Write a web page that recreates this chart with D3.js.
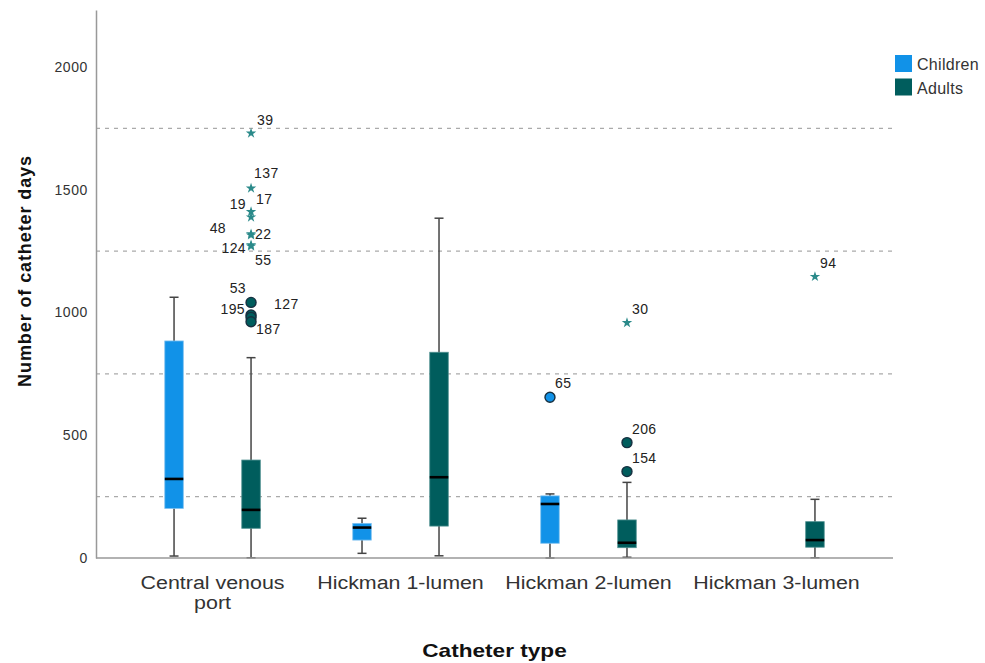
<!DOCTYPE html>
<html>
<head>
<meta charset="utf-8">
<script src="https://cdn.jsdelivr.net/npm/d3@7"></script>
<style>
  body { margin: 0; background: #fff; }
  svg { font-family: "Liberation Sans", Arial, sans-serif; }
</style>
</head>
<body>
<div id="chart"></div>
<script>
// Chart size
const width = 985;
const height = 663;
const margin = {left: 96, right: 92, top: 10, bottom: 105};

// Categories and groups
const categories = ["Central venous port", "Hickman 1-lumen", "Hickman 2-lumen", "Hickman 3-lumen"];
const groups = ["Children", "Adults"];
const yTicks = [0, 500, 1000, 1500, 2000];
const gridValues = [250, 750, 1250, 1750];

// Box statistics: [category, group, lowWhisker, q1, median, q3, highWhisker]
const boxStats = [
  ["Central venous port", "Children", 8, 202, 322, 884, 1062],
  ["Central venous port", "Adults", 1, 121, 196, 399, 816],
  ["Hickman 1-lumen", "Children", 19, 73, 124, 141, 162],
  ["Hickman 1-lumen", "Adults", 9, 130, 329, 838, 1384],
  ["Hickman 2-lumen", "Children", 0, 60, 220, 253, 261],
  ["Hickman 2-lumen", "Adults", 3, 42, 62, 155, 308],
  ["Hickman 3-lumen", "Adults", 1, 44, 73, 148, 239]
];

// Outliers: [category, group, case id, value, kind]
const outliers = [
  ["Central venous port", "Adults", "39", 1730, "extreme"],
  ["Central venous port", "Adults", "137", 1506, "extreme"],
  ["Central venous port", "Adults", "19", 1410, "extreme"],
  ["Central venous port", "Adults", "17", 1388, "extreme"],
  ["Central venous port", "Adults", "48", 1320, "extreme"],
  ["Central venous port", "Adults", "22", 1315, "extreme"],
  ["Central venous port", "Adults", "124", 1275, "extreme"],
  ["Central venous port", "Adults", "55", 1270, "extreme"],
  ["Central venous port", "Adults", "53", 1041, "outlier"],
  ["Central venous port", "Adults", "195", 990, "outlier"],
  ["Central venous port", "Adults", "127", 980, "outlier"],
  ["Central venous port", "Adults", "187", 962, "outlier"],
  ["Hickman 2-lumen", "Children", "65", 655, "outlier"],
  ["Hickman 2-lumen", "Adults", "30", 958, "extreme"],
  ["Hickman 2-lumen", "Adults", "206", 470, "outlier"],
  ["Hickman 2-lumen", "Adults", "154", 352, "outlier"],
  ["Hickman 3-lumen", "Adults", "94", 1146, "extreme"]
];

// where each case label sits next to its point: [dx, dy, anchor]
const labelPlace = {
  "39": [6, -8, "start"], "137": [3, -10, "start"], "19": [-5, -3, "end"],
  "17": [5, -13, "start"], "48": [-25, -1, "end"], "22": [4, 4, "start"],
  "124": [-5, 8, "end"], "55": [4, 19, "start"], "53": [-5, -9, "end"],
  "195": [-6, -1, "end"], "127": [23, -8, "start"], "187": [5, 12, "start"]
};
const defaultPlace = [5, -9, "start"];

const colors = {Children: "#1192e8", Adults: "#005d5d"};
const starColor = "#2b8a8a";

const svg = d3.select("#chart")
  .append("svg")
  .attr("width", width)
  .attr("height", height);

// Scales
const y = d3.scaleLinear()
  .domain([0, 2232])
  .range([height - margin.bottom, margin.top]);

const x0 = d3.scaleBand()
  .domain(categories)
  .range([margin.left, width - margin.right])
  .paddingInner(0)
  .paddingOuter(0.12);

const x1 = d3.scalePoint()
  .domain(groups)
  .range([-38.5, 38.5]);

const cx = (cat, grp) => x0(cat) + x0.bandwidth() / 2 + x1(grp);
const boxW = 18.5;
const capW = 9;

// Dashed reference lines
svg.append("g")
  .selectAll("line")
  .data(gridValues)
  .join("line")
    .attr("x1", margin.left)
    .attr("x2", width - margin.right)
    .attr("y1", d => y(d))
    .attr("y2", d => y(d))
    .attr("stroke", "#aaaaaa")
    .attr("stroke-width", 1.3)
    .attr("stroke-dasharray", "4,5");

// Y axis (no tick marks, just labels)
const yAxis = svg.append("g")
  .attr("transform", `translate(${margin.left},0)`)
  .call(d3.axisLeft(y).tickValues(yTicks).tickFormat(d3.format("d")).tickSize(0).tickPadding(8));
yAxis.select(".domain").attr("stroke", "#999").attr("stroke-width", 1.5);
yAxis.selectAll("text")
  .attr("font-size", "14px")
  .attr("fill", "#333")
  .style("letter-spacing", "0.6px");

// Boxes
const boxes = svg.append("g")
  .selectAll("g")
  .data(boxStats)
  .join("g")
    .attr("transform", d => `translate(${cx(d[0], d[1])},0)`);

boxes.append("line")
  .attr("y1", d => y(d[2]))
  .attr("y2", d => y(d[6]))
  .attr("stroke", "#444")
  .attr("stroke-width", 1.5);

boxes.selectAll(".cap")
  .data(d => [d[2], d[6]])
  .join("line")
    .attr("class", "cap")
    .attr("x1", -capW / 2)
    .attr("x2", capW / 2)
    .attr("y1", d => y(d))
    .attr("y2", d => y(d))
    .attr("stroke", "#444")
    .attr("stroke-width", 1.5);

boxes.append("rect")
  .attr("x", -boxW / 2)
  .attr("width", boxW)
  .attr("y", d => y(d[5]))
  .attr("height", d => y(d[3]) - y(d[5]))
  .attr("fill", d => colors[d[1]])
  .attr("stroke", d => d[1] === "Children" ? "#7cc0f0" : "#4d8f8f")
  .attr("stroke-width", 0.8);

boxes.append("line")
  .attr("x1", -boxW / 2)
  .attr("x2", boxW / 2)
  .attr("y1", d => y(d[4]))
  .attr("y2", d => y(d[4]))
  .attr("stroke", "#000")
  .attr("stroke-width", 2.6);

// X axis line
svg.append("line")
  .attr("x1", margin.left)
  .attr("x2", width - margin.right)
  .attr("y1", y(0))
  .attr("y2", y(0))
  .attr("stroke", "#999")
  .attr("stroke-width", 1.5);

// Outlier marks
const marks = svg.append("g");
marks.selectAll("circle")
  .data(outliers.filter(d => d[4] === "outlier"))
  .join("circle")
    .attr("cx", d => cx(d[0], d[1]))
    .attr("cy", d => y(d[3]))
    .attr("r", 5)
    .attr("fill", d => colors[d[1]])
    .attr("stroke", "#163040")
    .attr("stroke-width", 1.4);

marks.selectAll("path")
  .data(outliers.filter(d => d[4] === "extreme"))
  .join("path")
    .attr("d", d3.symbol(d3.symbolStar, 34))
    .attr("transform", d => `translate(${cx(d[0], d[1])},${y(d[3])})`)
    .attr("fill", starColor);

// Case labels
svg.append("g")
  .selectAll("text")
  .data(outliers)
  .join("text")
    .attr("x", d => cx(d[0], d[1]) + (labelPlace[d[2]] || defaultPlace)[0])
    .attr("y", d => y(d[3]) + (labelPlace[d[2]] || defaultPlace)[1])
    .attr("text-anchor", d => (labelPlace[d[2]] || defaultPlace)[2])
    .attr("font-size", "14px")
    .attr("fill", "#222")
    .style("letter-spacing", "0.4px")
    .text(d => d[2]);

// Category labels (two lines for the long one), glyphs a bit wide like the original
const catLines = {"Central venous port": ["Central venous", "port"]};
svg.append("g")
  .selectAll("text")
  .data(categories)
  .join("text")
    .attr("transform", d => `translate(${x0(d) + x0.bandwidth() / 2},589) scale(1.19,1)`)
    .attr("text-anchor", "middle")
    .attr("font-size", "18px")
    .attr("fill", "#333")
    .selectAll("tspan")
    .data(d => catLines[d] || [d])
    .join("tspan")
      .attr("x", 0)
      .attr("dy", (d, i) => i === 0 ? 0 : 20)
      .text(d => d);

// Axis titles
svg.append("text")
  .attr("transform", `translate(${(margin.left + width - margin.right) / 2},657) scale(1.19,1)`)
  .attr("text-anchor", "middle")
  .attr("font-size", "19px")
  .attr("font-weight", "bold")
  .attr("fill", "#111")
  .text("Catheter type");

svg.append("text")
  .attr("transform", "translate(31,271) rotate(-90)")
  .attr("text-anchor", "middle")
  .attr("font-size", "18px")
  .attr("font-weight", "bold")
  .attr("fill", "#111")
  .style("letter-spacing", "0.9px")
  .text("Number of catheter days");

// Legend
const legend = svg.append("g")
  .attr("transform", "translate(895,55)")
  .selectAll("g")
  .data(groups)
  .join("g")
    .attr("transform", (d, i) => `translate(0,${i * 23.5})`);

legend.append("rect")
  .attr("width", 17)
  .attr("height", 17)
  .attr("fill", d => colors[d]);

legend.append("text")
  .attr("x", 22)
  .attr("y", 15)
  .attr("font-size", "16px")
  .attr("fill", "#333")
  .style("letter-spacing", "0.3px")
  .text(d => d);
</script>
</body>
</html>
